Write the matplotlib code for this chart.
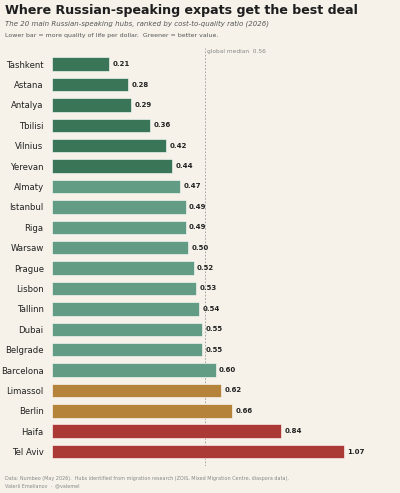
import matplotlib.pyplot as plt
from matplotlib.transforms import blended_transform_factory

# data
cities = ['Tashkent', 'Astana', 'Antalya', 'Tbilisi', 'Vilnius', 'Yerevan',
          'Almaty', 'Istanbul', 'Riga', 'Warsaw', 'Prague', 'Lisbon', 'Tallinn',
          'Dubai', 'Belgrade', 'Barcelona', 'Limassol', 'Berlin', 'Haifa', 'Tel Aviv']
ratios = [0.21, 0.28, 0.29, 0.36, 0.42, 0.44, 0.47, 0.49, 0.49, 0.50,
          0.52, 0.53, 0.54, 0.55, 0.55, 0.60, 0.62, 0.66, 0.84, 1.07]
tiers = ['best'] * 6 + ['good'] * 10 + ['mid'] * 2 + ['poor'] * 2
median = 0.56

tier_colors = {'best': '#3a7557', 'good': '#639c84', 'mid': '#b5843a', 'poor': '#ab3a36'}
bg = '#f6f2ea'

fig = plt.figure(figsize=(4.0, 4.93), dpi=100, facecolor=bg)
ax = fig.add_axes([0.13, 0.055, 0.845, 0.848], facecolor=bg)

colors = [tier_colors[t] for t in tiers]
ypos = list(range(len(cities)))
ax.barh(ypos, ratios, height=0.66, color=colors, edgecolor='#ffffff', linewidth=0.4)

for y, v in zip(ypos, ratios):
    ax.text(v + 0.012, y, f'{v:.2f}', va='center', ha='left',
            fontsize=5, fontweight='bold', color='#222222')

ax.axvline(median, color='#999999', linestyle=(0, (2, 2)), linewidth=0.6, zorder=0)
trans = blended_transform_factory(ax.transData, ax.transData)
ax.text(median + 0.01, -0.62, f'global median  {median:.2f}', fontsize=4.2,
        color='#888888', va='center', ha='left', transform=trans)

ax.set_yticks(ypos)
ax.set_yticklabels(cities, fontsize=6.1, color='#222222')
ax.tick_params(axis='y', length=0, pad=6)
ax.set_xticks([])
ax.set_xlim(0, 1.24)
ax.set_ylim(19.7, -0.8)
for s in ax.spines.values():
    s.set_visible(False)

fig.text(0.012, 0.978, 'Where Russian-speaking expats get the best deal',
         fontsize=9.1, fontweight='bold', color='#1e1e1e', va='center', ha='left')
fig.text(0.012, 0.951, 'The 20 main Russian-speaking hubs, ranked by cost-to-quality ratio (2026)',
         fontsize=5.0, style='italic', color='#555555', va='center', ha='left')
fig.text(0.012, 0.929, 'Lower bar = more quality of life per dollar.  Greener = better value.',
         fontsize=4.5, color='#555555', va='center', ha='left')

fig.text(0.012, 0.030, 'Data: Numbeo (May 2026).  Hubs identified from migration research '
         '(ZOiS, Mixed Migration Centre, diaspora data).',
         fontsize=3.5, color='#888888', va='center', ha='left')
fig.text(0.012, 0.015, 'Valerii Emelianov  \u00b7  @valemel',
         fontsize=3.5, color='#888888', va='center', ha='left')

fig.savefig('out.png', dpi=100, facecolor=bg)
